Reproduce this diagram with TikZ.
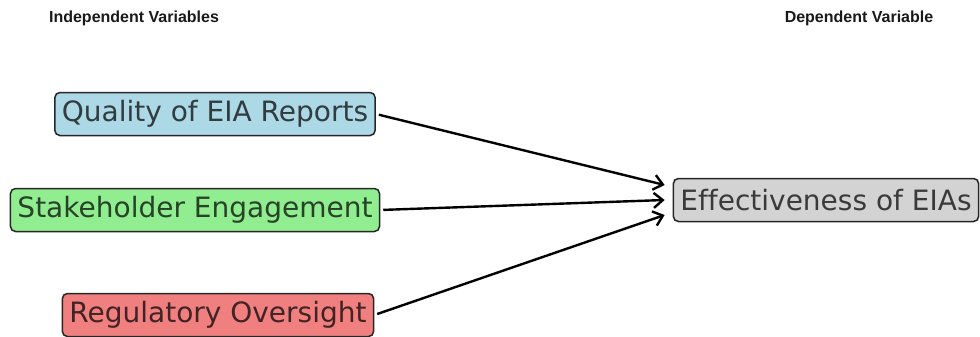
\documentclass[tikz,border=0pt]{standalone}
\usepackage{fontspec}
\setmainfont[Ligatures=NoCommon]{DejaVu Sans}
\newfontfamily\titlefont{Liberation Sans}
\usetikzlibrary{arrows.meta,calc}
\definecolor{qblue}{HTML}{ADD8E6}
\definecolor{sgreen}{HTML}{90EE90}
\definecolor{rred}{HTML}{F08080}
\definecolor{egrey}{HTML}{D3D3D3}
\tikzset{
  varbox/.style={draw=black!85, line width=1.5pt, rounded corners=5pt, inner xsep=7pt, inner ysep=0pt,
    minimum height=43pt, text=black, text opacity=0.72, font=\fontsize{28}{32}\selectfont},
  title/.style={font=\titlefont\bfseries\fontsize{16}{19}\selectfont, text=black!90},
  link/.style={line width=2.4pt, -{Straight Barb[length=9pt,width=15pt,line width=2.4pt]}}
}
\begin{document}
\begin{tikzpicture}[x=1pt,y=-1pt]
\useasboundingbox (0,0) rectangle (980,337);
\node[title] (ti) at (134,18) {Independent Variables};
\node[title] (td) at (859,18) {Dependent Variable};
\node[varbox, fill=qblue] (q) at (215,114) {Quality of EIA Reports};
\node[varbox, fill=sgreen] (s) at (195,210) {Stakeholder Engagement};
\node[varbox, fill=rred] (r) at (218,315) {Regulatory Oversight};
\node[varbox, fill=egrey] (e) at (826,200) {Effectiveness of EIAs};
\coordinate (e1) at ($(e.west)+(-8,-15)$);
\coordinate (e2) at ($(e.west)+(-8,0)$);
\coordinate (e3) at ($(e.west)+(-8,15)$);
\draw[link, shorten <=3pt] (q.east) -- (e1);
\draw[link, shorten <=3pt] (s.east) -- (e2);
\draw[link, shorten <=3pt] (r.east) -- (e3);
\end{tikzpicture}
\end{document}
